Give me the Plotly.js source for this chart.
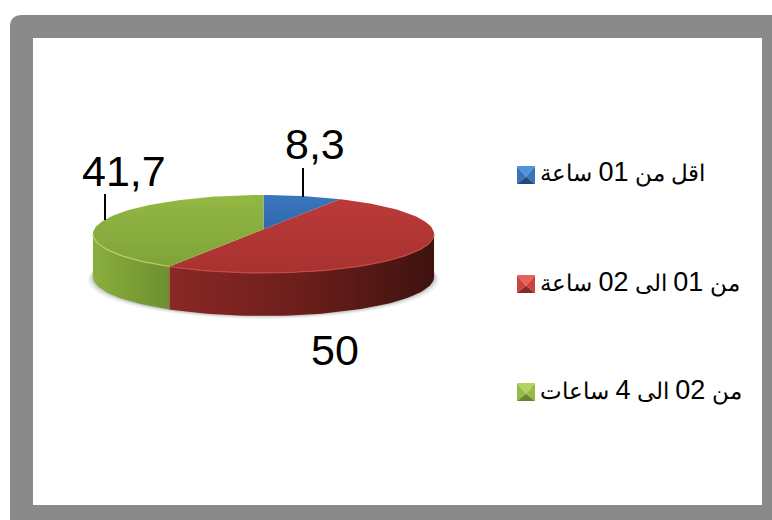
<!DOCTYPE html>
<html>
<head>
<meta charset="utf-8">
<script src="https://cdn.plot.ly/plotly-3.0.1.min.js"></script>
<style>html,body{margin:0;padding:0;background:#fff;overflow:hidden}#chart{width:772px;height:520px}</style>
</head>
<body>
<div id="chart"></div>
<script>
// ---- data ----
var categories = ['اقل من 01 ساعة', 'من 01 الى 02 ساعة', 'من 02 الى 4 ساعات'];
var values = [8.3, 50, 41.7];
var valueLabels = ['8,3', '50', '41,7'];

// ---- styles ----
var topColors = [['#3b76bd', '#2f68ad'], ['#bb3a38', '#a83230'], ['#93b843', '#7fa338']];
var wallColors = [null, ['#8a2826', '#6c1e1b', '#3e1310'], ['#8aae3e', '#6d8f30']];
var rimColors = [null, '#c44a46', '#b4d06a'];
var swatchColors = [
  ['#4f93dc', '#3a74b8', '#1f4a80'],
  ['#e8605c', '#cc4442', '#872a28'],
  ['#b2d262', '#98ba46', '#688430']
];
var fontFamily = '"Liberation Sans", Arial, sans-serif';

// ---- pie geometry (pixel-space axes) ----
var apexX = 263.5, apexY = 229.3, radX = 169.3, radY = 38.4, persp = 0.1205, depth = 43;
var visibleFrom = 97, visibleTo = 263;

function pt(deg) {
  var r = deg * Math.PI / 180, s = Math.sin(r), c = Math.cos(r), w = 1 + persp * c;
  return [apexX + radX * s / w, apexY - radY * c / w];
}
function arc(a, b) {
  var out = [], n = Math.max(2, Math.ceil(Math.abs(b - a) / 2));
  for (var i = 0; i <= n; i++) out.push(pt(a + (b - a) * i / n));
  return out;
}
function xs(p) { return p.map(function (q) { return q[0]; }); }
function ys(p) { return p.map(function (q) { return q[1]; }); }

var traces = [];
function poly(p, fill, grad) {
  var t = {x: xs(p).concat(p[0][0]), y: ys(p).concat(p[0][1]), mode: 'lines', fill: 'toself',
    line: {width: 0}, hoverinfo: 'skip', showlegend: false};
  if (grad) t.fillgradient = grad; else t.fillcolor = fill;
  traces.push(t);
}
function scale(cols) {
  return cols.map(function (c, i) { return [i / (cols.length - 1), c]; });
}

// soft shadow under the base
[[5, 0.05], [3, 0.07], [1.5, 0.09]].forEach(function (s) {
  var a = arc(visibleFrom - 12, visibleTo + 12).map(function (q) {
    var dx = q[0] - apexX;
    return [apexX + dx * (1 + s[0] / radX), q[1] + depth + s[0] * 0.6];
  });
  poly(a, 'rgba(0,0,0,' + s[1] + ')');
});

// slices
var total = values.reduce(function (a, b) { return a + b; }, 0);
var angles = [0];
values.forEach(function (v, i) { angles.push(angles[i] + v / total * 360); });

// side walls
values.forEach(function (v, i) {
  var a = Math.max(angles[i], visibleFrom), b = Math.min(angles[i + 1], visibleTo);
  if (b <= a || !wallColors[i]) return;
  var top = arc(a, b);
  var low = top.slice().reverse().map(function (q) { return [q[0], q[1] + depth]; });
  var xMin = Math.min.apply(null, xs(top)), xMax = Math.max.apply(null, xs(top));
  var cols = wallColors[i];
  poly(top.concat(low), null, {type: 'horizontal', colorscale: scale(cols), start: xMin, stop: xMax});
});

// top faces
values.forEach(function (v, i) {
  var p = [[apexX, apexY]].concat(arc(angles[i], angles[i + 1]));
  var y = ys(p);
  poly(p, null, {type: 'vertical', colorscale: scale(topColors[i].slice().reverse()),
    start: Math.max.apply(null, y), stop: Math.min.apply(null, y)});
});

// bevel highlight along the front edge
values.forEach(function (v, i) {
  var a = Math.max(angles[i], visibleFrom), b = Math.min(angles[i + 1], visibleTo);
  if (b <= a || !rimColors[i]) return;
  var p = arc(a, b);
  traces.push({x: xs(p), y: ys(p), mode: 'lines', line: {color: rimColors[i], width: 1.2},
    hoverinfo: 'skip', showlegend: false});
});

// leader lines
var leaders = [[[303, 168], [303, 197]], [[105, 194], [105, 220]]];
leaders.forEach(function (l) {
  traces.push({x: [l[0][0], l[1][0]], y: [l[0][1], l[1][1]], mode: 'lines',
    line: {color: '#000', width: 2}, hoverinfo: 'skip', showlegend: false});
});

// legend swatches (pyramid shading)
var swatchX = 517, swatchSize = 18, swatchY = [166, 275, 383];
categories.forEach(function (c, i) {
  var x0 = swatchX, x1 = swatchX + swatchSize, y0 = swatchY[i], y1 = y0 + swatchSize;
  var mx = (x0 + x1) / 2, my = y0 + swatchSize * 0.6, col = swatchColors[i];
  poly([[x0, y0], [x0, y1], [mx, my]], col[1]);
  poly([[x1, y0], [x1, y1], [mx, my]], col[1]);
  poly([[x0, y0], [x1, y0], [mx, my]], col[0]);
  poly([[x0, y1], [x1, y1], [mx, my]], col[2]);
});

// text
var labelPos = [[315, 143.5], [335, 349.5], [124, 170.5]];
var annotations = valueLabels.map(function (t, i) {
  return {x: labelPos[i][0], y: labelPos[i][1], text: t, showarrow: false,
    xanchor: 'center', yanchor: 'middle', font: {family: fontFamily, size: 43, color: '#000'}};
});
var legendTextY = [172, 282, 390];
categories.forEach(function (c, i) {
  annotations.push({x: 538, y: legendTextY[i], showarrow: false, xanchor: 'left', yanchor: 'middle',
    text: c.replace(/\d+/g, function (d) { return '<span style="font-size:27px">' + d + '</span>'; }),
    font: {family: fontFamily, size: 23, color: '#000'}});
});

var axis = {visible: false, fixedrange: true, showgrid: false, zeroline: false};
var layout = {
  width: 772, height: 520,
  margin: {l: 0, r: 0, t: 0, b: 0},
  paper_bgcolor: '#ffffff', plot_bgcolor: '#ffffff',
  showlegend: false,
  xaxis: Object.assign({range: [0, 772]}, axis),
  yaxis: Object.assign({range: [520, 0]}, axis),
  annotations: annotations,
  shapes: [
    {type: 'path', layer: 'below', xref: 'x', yref: 'y', line: {width: 0}, fillcolor: '#8a8a8a',
     path: 'M10,528 L10,27 Q10,15 22,15 L780,15 L780,528 Z'},
    {type: 'rect', layer: 'below', xref: 'x', yref: 'y', line: {width: 0}, fillcolor: '#ffffff',
     x0: 33, y0: 38, x1: 762, y1: 505}
  ]
};
Plotly.newPlot('chart', traces, layout, {displayModeBar: false, staticPlot: true});
</script>
</body>
</html>
